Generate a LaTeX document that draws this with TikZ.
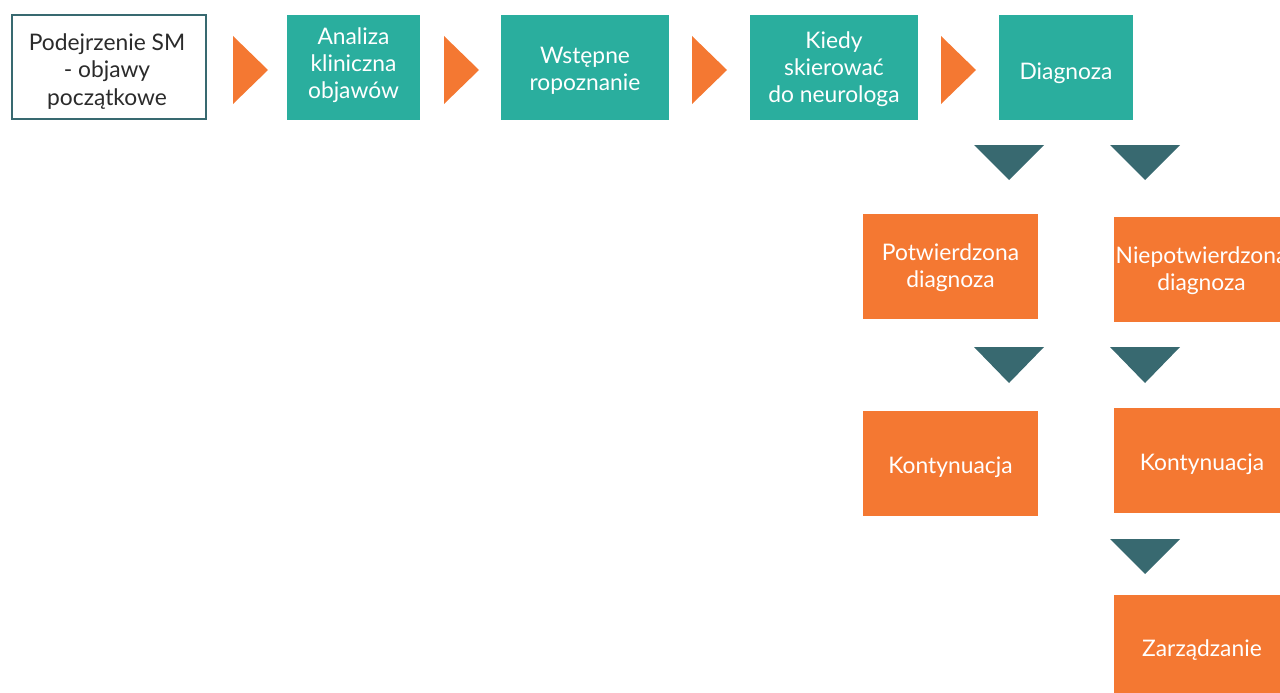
\documentclass[tikz,border=0pt]{standalone}
\usepackage{fontspec}
\setmainfont{Lato}
\definecolor{teal1}{HTML}{2AAE9E}
\definecolor{orng}{HTML}{F47832}
\definecolor{dteal}{HTML}{386970}
\definecolor{txt}{HTML}{2B2B2B}
\tikzset{
  tealbox/.style={inner sep=0pt, fill=teal1},
  orbox/.style={inner sep=0pt, fill=orng},
  startbox/.style={inner sep=0pt, draw=dteal, line width=2pt, fill=white},
  wtext/.style={inner sep=0pt, align=center, text=white, font=\fontsize{22.8}{27}\selectfont},
  dtext/.style={inner sep=0pt, align=center, text=txt, font=\fontsize{22.8}{27.5}\selectfont},
  rarrow/.style={fill=orng},
  darrow/.style={fill=dteal},
}
\begin{document}
\begin{tikzpicture}[x=1pt,y=-1pt]
\useasboundingbox (0,0) rectangle (1280,693);
\clip (0,0) rectangle (1280,693);
% top row
\node[startbox, minimum width=194pt, minimum height=104pt] (s) at (109,67) {};
\node[dtext] (s-t) at ([xshift=-2pt,yshift=-4.5pt]s.center) {Podejrzenie SM\\- objawy\\początkowe};
\node[tealbox, minimum width=133pt, minimum height=105pt] (a) at (353.5,67.5) {};
\node[wtext] (a-t) at ([yshift=2pt]a.center) {Analiza\\kliniczna\\objawów};
\node[tealbox, minimum width=168pt, minimum height=105pt] (w) at (585,67.5) {};
\node[wtext] (w-t) at ([yshift=-3.5pt]w.center) {Wstępne\\ropoznanie};
\node[tealbox, minimum width=168pt, minimum height=105pt] (k) at (834,67.5) {};
\node[wtext] (k-t) at ([yshift=-2pt]k.center) {Kiedy\\skierować\\do neurologa};
\node[tealbox, minimum width=134pt, minimum height=105pt] (d) at (1066,67.5) {};
\node[wtext] (d-t) at ([yshift=-6pt]d.center) {Diagnoza};
% right arrows
\fill[rarrow] (233,36) -- (268,70) -- (233,104) -- cycle;
\fill[rarrow] (444,36) -- (479,70) -- (444,104) -- cycle;
\fill[rarrow] (692,36) -- (727,70) -- (692,104) -- cycle;
\fill[rarrow] (941,36) -- (976,70) -- (941,104) -- cycle;
% orange boxes
\node[orbox, minimum width=175pt, minimum height=105pt] (p) at (950.5,266.5) {};
\node[wtext] (p-t) at ([yshift=-1.5pt]p.center) {Potwierdzona\\diagnoza};
\node[orbox, minimum width=176pt, minimum height=105pt] (n) at (1202,269.5) {};
\node[wtext] (n-t) at ([xshift=-0.5pt,yshift=-1pt]n.center) {Niepotwierdzona\\diagnoza};
\node[orbox, minimum width=175pt, minimum height=105pt] (k1) at (950.5,463.5) {};
\node[wtext] (k1-t) at ([yshift=-4pt]k1.center) {Kontynuacja};
\node[orbox, minimum width=176pt, minimum height=105pt] (k2) at (1202,460.5) {};
\node[wtext] (k2-t) at ([yshift=-4pt]k2.center) {Kontynuacja};
\node[orbox, minimum width=176pt, minimum height=105pt] (z) at (1202,647.5) {};
\node[wtext] (z-t) at ([yshift=-3pt]z.center) {Zarządzanie};
% down arrows
\fill[darrow] (974,145) -- (1044,145) -- (1009,180) -- cycle;
\fill[darrow] (1110,145) -- (1180,145) -- (1145,180) -- cycle;
\fill[darrow] (974,347) -- (1044,347) -- (1009,383) -- cycle;
\fill[darrow] (1110,347) -- (1180,347) -- (1145,383) -- cycle;
\fill[darrow] (1110,539) -- (1180,539) -- (1145,574) -- cycle;
\end{tikzpicture}
\end{document}
